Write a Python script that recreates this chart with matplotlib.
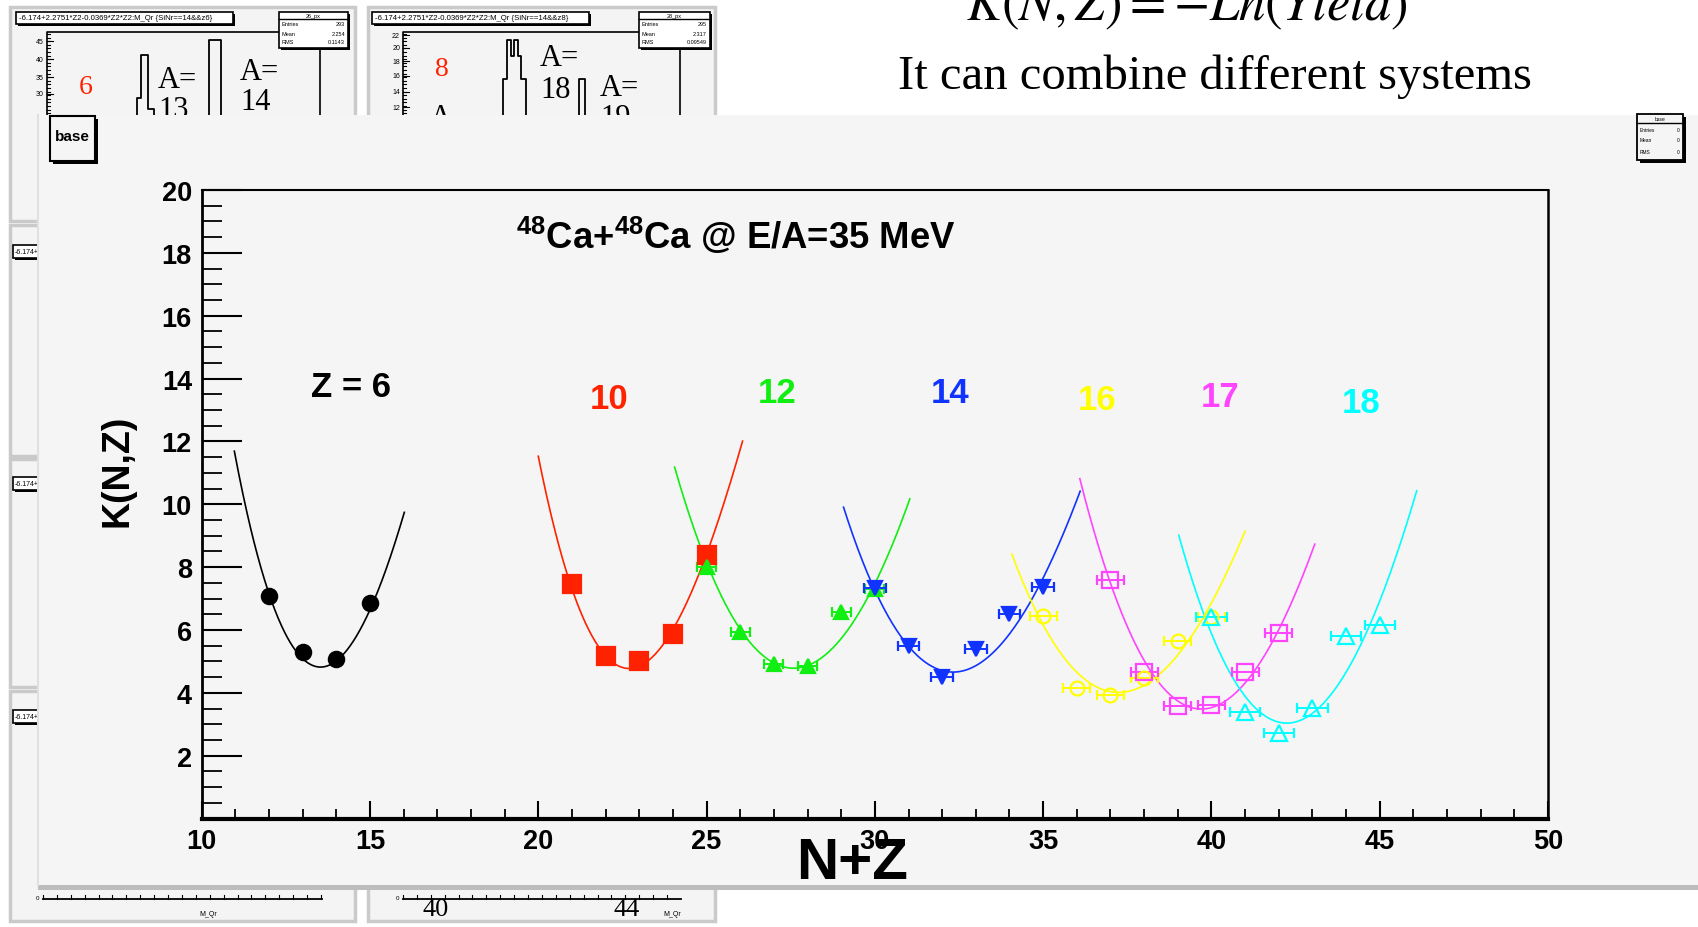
"""
K(N,Z) systematics for 48Ca+48Ca @ E/A=35 MeV, as seen on a slide
with the ROOT canvas pasted over a grid of M_Qr histograms.
"""

import numpy as np
import matplotlib
matplotlib.use("Agg")
import matplotlib.pyplot as plt
from matplotlib.patches import Rectangle

plt.rcParams["font.family"] = ["Liberation Sans", "DejaVu Sans"]
plt.rcParams["mathtext.fontset"] = "stix"

W, H = 1699, 928

# ─────────────────────────────────────────────
# DATA
# ─────────────────────────────────────────────

z_labels = ["Z = 6", "10", "12", "14", "16", "17", "18"]
label_x = [14.43, 22.09, 27.11, 32.24, 36.61, 40.25, 44.46]
label_y = [13.75, 13.36, 13.57, 13.57, 13.34, 13.44, 13.23]

z6_x = [12, 13, 14, 15]
z6_y = [7.09, 5.29, 5.07, 6.87]
z10_x = [21, 22, 23, 24, 25]
z10_y = [7.46, 5.18, 5.02, 5.87, 8.39]
z12_x = [25, 26, 27, 28, 29, 30]
z12_y = [7.99, 5.94, 4.91, 4.84, 6.56, 7.30]
z14_x = [30, 31, 32, 33, 34, 35]
z14_y = [7.35, 5.50, 4.49, 5.39, 6.50, 7.38]
z16_x = [35, 36, 37, 38, 39, 40]
z16_y = [6.45, 4.15, 3.92, 4.47, 5.66, 6.40]
z17_x = [37, 38, 39, 40, 41, 42]
z17_y = [7.58, 4.66, 3.57, 3.63, 4.68, 5.90]
z18_x = [40, 41, 42, 43, 44, 45]
z18_y = [6.40, 3.40, 2.71, 3.52, 5.80, 6.15]

# half widths of the horizontal error bars
xerr = [0, 0, 0.28, 0.32, 0.40, 0.40, 0.45]

# points
z6_cx = [10.97, 11.29, 11.74, 12.44, 13.38, 13.7, 14.43, 15.42, 16.02]
z6_cy = [11.75, 10.05, 7.83, 6.03, 4.94, 4.95, 5.39, 7.72, 9.79]
z10_cx = [20.0, 20.9, 21.79, 22.49, 23.28, 24.28, 25.07, 25.67, 26.07]
z10_cy = [11.48, 7.72, 5.50, 4.80, 4.97, 6.45, 8.78, 10.69, 11.87]
z12_cx = [24.05, 24.87, 25.27, 25.87, 26.47, 27.36, 28.36, 29.25, 29.96, 31.04]
z12_cy = [11.25, 8.36, 7.51, 6.24, 5.39, 4.91, 5.02, 6.13, 7.30, 10.21]
z14_cx = [29.07, 29.85, 30.84, 32.14, 33.28, 34.23, 35.22, 36.10]
z14_cy = [9.86, 7.72, 5.71, 4.54, 5.07, 6.45, 7.93, 10.48]
z16_cx = [34.07, 34.73, 35.22, 36.12, 37.11, 38.0, 38.8, 40.1, 41.0]
z16_cy = [8.34, 6.88, 5.81, 4.33, 3.96, 4.33, 5.18, 6.77, 9.26]
z17_cx = [36.09, 36.72, 37.41, 38.21, 38.9, 39.8, 40.69, 41.49, 42.39, 43.07]
z17_cy = [10.69, 8.57, 6.45, 4.54, 3.70, 3.54, 4.01, 5.07, 6.88, 8.72]
z18_cx = [39.03, 39.7, 40.4, 41.19, 42.14, 43.18, 44.18, 45.17, 46.1]
z18_cy = [8.90, 6.88, 5.07, 3.48, 2.98, 3.48, 5.18, 7.30, 10.44]

x_ticks = [10, 15, 20, 25, 30, 35, 40, 45, 50]
y_ticks = [2, 4, 6, 8, 10, 12, 14, 16, 18, 20]

# background histogram pads
pad1_yticks = ["45", "40", "35", "30"]
pad2_yticks = ["22", "20", "18", "16", "14", "12"]
pad1_stats = ["26_px", "Entries", "293", "Mean", "2.254", "RMS", "0.1143"]
pad2_stats = ["28_px", "Entries", "295", "Mean", "2.317", "RMS", "0.09549"]


# ─────────────────────────────────────────────
# BACKGROUND SLIDE (pixel coordinates)
# ─────────────────────────────────────────────

def draw_box(bg, x0, y0, x1, y1, z, fc="white", shadow=3, lw=1.2):
    if shadow:
        bg.add_patch(Rectangle((x0 + shadow, y0 + shadow), x1 - x0, y1 - y0,
                               fc="black", ec="black", lw=0, zorder=z))
    bg.add_patch(Rectangle((x0, y0), x1 - x0, y1 - y0, fc=fc, ec="black",
                           lw=lw, zorder=z + 0.1))


def draw_pad(bg, x0, y0, x1, y1):
    bg.add_patch(Rectangle((x0, y0), x1 - x0, y1 - y0, fc="#f4f4f4",
                           ec="#cacaca", lw=2.5, zorder=1))


def draw_hist_pad(bg, ax0, ax1, ticks, ypos, title, stats, box):
    # frame of the small histogram
    bg.plot([ax0, ax0, ax1, ax1], [140, 33, 33, 140], color="black", lw=1.2, zorder=2)
    for t, yy in zip(ticks, ypos):
        bg.text(ax0 - 3, yy, t, fontsize=5, ha="right", va="center", zorder=2)
    for yy in np.arange(35, 140, 3.6):
        bg.plot([ax0, ax0 + 3], [yy, yy], color="black", lw=0.8, zorder=2)
    for yy in ypos:
        bg.plot([ax0, ax0 + 6], [yy, yy], color="black", lw=0.8, zorder=2)
    tx0 = ax0 - 31
    draw_box(bg, tx0, 13, tx0 + 217, 25, 3, shadow=2)
    bg.text(tx0 + 3, 19, title, fontsize=5.6, va="center", zorder=4)
    sx0, sx1 = box
    draw_box(bg, sx0, 13, sx1, 49, 3, shadow=2)
    bg.plot([sx0, sx1], [20, 20], color="black", lw=1, zorder=4)
    bg.text((sx0 + sx1) / 2, 16.5, stats[0], fontsize=4, ha="center", va="center", zorder=4)
    for k, yy in enumerate([25, 34, 42]):
        bg.text(sx0 + 3, yy, stats[1 + 2 * k], fontsize=4, va="center", zorder=4)
        bg.text(sx1 - 3, yy, stats[2 + 2 * k], fontsize=4, ha="right", va="center", zorder=4)


def draw_background(fig):
    bg = fig.add_axes([0, 0, 1, 1])
    bg.set_xlim(0, W)
    bg.set_ylim(H, 0)
    bg.axis("off")

    # grid of pads from the histogram canvas
    for (x0, x1) in [(10, 355), (368, 715)]:
        for (y0, y1) in [(8, 222), (226, 457), (460, 688), (692, 922)]:
            draw_pad(bg, x0, y0, x1, y1)

    draw_hist_pad(bg, 47, 320, pad1_yticks, [42, 60, 78, 95],
                  "-6.174+2.2751*Z2-0.0369*Z2*Z2:M_Qr {SiNr==14&&z6}", pad1_stats, (279, 348))
    draw_hist_pad(bg, 403, 680, pad2_yticks, [36, 49, 62, 77, 93, 108],
                  "-6.174+2.2751*Z2-0.0369*Z2*Z2:M_Qr {SiNr==14&&z8}", pad2_stats, (639, 710))

    # histogram outlines peeking above the canvas
    bg.plot([137, 137, 141, 141, 148, 148, 154, 154], [140, 99, 99, 56, 56, 110, 110, 140],
            color="black", lw=1.3, zorder=2)
    bg.plot([209, 209, 221, 221], [140, 41, 41, 140], color="black", lw=1.3, zorder=2)
    bg.plot([503, 503, 507, 507, 511, 511, 514, 514, 518, 518, 521, 521, 526, 526],
            [140, 80, 80, 41, 41, 57, 57, 41, 41, 57, 57, 80, 80, 140],
            color="black", lw=1.3, zorder=2)
    bg.plot([579, 579, 585, 585], [140, 80, 80, 140], color="black", lw=1.3, zorder=2)

    serif = "Liberation Serif"
    bg.text(86, 88, "6", color="#ff2200", family=serif, fontsize=20, ha="center", va="center", zorder=2)
    bg.text(442, 70, "8", color="#ff2200", family=serif, fontsize=20, ha="center", va="center", zorder=2)
    for (tx, ty, s) in [(158, 80, "A="), (158, 111, "13"), (240, 72, "A="), (240, 103, "14"),
                        (540, 58, "A="), (540, 90, "18"), (600, 88, "A="), (600, 119, "19"),
                        (430, 118, "A")]:
        bg.text(tx, ty, s, family=serif, fontsize=22, va="center", zorder=2)

    # little boxes of the pads on the left column
    for yy in [246, 478, 711]:
        draw_box(bg, 13, yy, 120, yy + 13, 3, shadow=2)
        bg.text(15, yy + 6.5, "-6.174+2.2751*Z2", fontsize=5, va="center", zorder=4)

    # bottom axes of the last row of pads
    for (a0, a1, lab) in [(43, 322, 208), (403, 681, 672)]:
        bg.plot([a0, a1], [900, 900], color="black", lw=1.3, zorder=2)
        for xx in np.arange(a0, a1, 13.9):
            bg.plot([xx, xx], [900, 896], color="black", lw=0.8, zorder=2)
        bg.text(a0 - 4, 899, "0", fontsize=4.5, ha="right", va="center", zorder=2)
        bg.text(lab, 915, "M_Qr", fontsize=5, ha="center", va="center", zorder=2)
    bg.text(436, 910, "40", family=serif, fontsize=19, ha="center", va="center", zorder=2)
    bg.text(627, 910, "44", family=serif, fontsize=19, ha="center", va="center", zorder=2)

    # slide text
    bg.text(1187, 20, r"$K(N,Z) = -Ln(Yield)$", fontsize=38, ha="center", va="baseline", zorder=2)
    bg.text(1215, 89, "It can combine different systems", family=serif, fontsize=35,
            ha="center", va="baseline", zorder=2)

    # the ROOT canvas on top
    bg.add_patch(Rectangle((38, 116), W, 774, fc="#f5f5f5", ec="none", zorder=10))
    bg.add_patch(Rectangle((38, 886), W, 5, fc="#bdbdbd", ec="none", zorder=10))
    bg.plot([38, 38], [116, 886], color="#e0e0e0", lw=1.5, zorder=10)

    draw_box(bg, 50, 117, 95, 162, 11, fc="#f5f5f5", shadow=3, lw=1.5)
    bg.text(72, 137, "base", fontsize=11, fontweight="bold", ha="center", va="center", zorder=12)

    draw_box(bg, 1637, 115, 1683, 161, 11, fc="#f5f5f5", shadow=3, lw=1.3)
    bg.plot([1637, 1683], [124, 124], color="black", lw=1, zorder=12)
    bg.text(1660, 119.5, "base", fontsize=3.5, ha="center", va="center", zorder=12)
    for yy, (a, b) in zip([130, 141, 152], [("Entries", "0"), ("Mean", "0"), ("RMS", "0")]):
        bg.text(1640, yy, a, fontsize=3.5, va="center", zorder=12)
        bg.text(1680, yy, b, fontsize=3.5, ha="right", va="center", zorder=12)
    return bg


# ─────────────────────────────────────────────
# MAIN PLOT
# ─────────────────────────────────────────────

def draw_series(ax, px, py, cx, cy, color, marker, ms, filled, err):
    coef = np.polyfit(cx, cy, 3)
    xs = np.linspace(cx[0], cx[-1], 200)
    ax.plot(xs, np.polyval(coef, xs), color=color, lw=1.2, zorder=3)
    mfc = color if filled else "none"
    ax.errorbar(px, py, xerr=err if err else None, fmt=marker, color=color, mfc=mfc,
                mec=color, ms=ms, mew=1.6, capsize=3.5, elinewidth=1.4, ls="none", zorder=4)


def main():
    fig = plt.figure(figsize=(W / 100, H / 100), dpi=100)
    fig.patch.set_facecolor("white")
    draw_background(fig)

    ax = fig.add_axes([201.7 / W, 1 - 819.6 / H, (1548 - 201.7) / W, (819.6 - 191) / H])
    ax.set_facecolor("none")
    ax.set_xlim(10, 50)
    ax.set_ylim(0, 20)

    series = [
        (z6_x, z6_y, z6_cx, z6_cy, "black", "o", 11, True),
        (z10_x, z10_y, z10_cx, z10_cy, "#ff2200", "s", 12.5, True),
        (z12_x, z12_y, z12_cx, z12_cy, "#11ee11", "^", 10, True),
        (z14_x, z14_y, z14_cx, z14_cy, "#1133ff", "v", 10.5, True),
        (z16_x, z16_y, z16_cx, z16_cy, "#ffff00", "o", 10, False),
        (z17_x, z17_y, z17_cx, z17_cy, "#ff44ff", "s", 12, False),
        (z18_x, z18_y, z18_cx, z18_cy, "#00ffff", "^", 11.5, False),
    ]
    for (px, py, cx, cy, col, mk, ms, filled), err in zip(series, xerr):
        draw_series(ax, px, py, cx, cy, col, mk, ms, filled, err)

    colors = [s[4] for s in series]
    for lab, lx, ly, col in zip(z_labels, label_x, label_y, colors):
        ax.text(lx, ly, lab, color=col, fontsize=25, fontweight="bold", ha="center", va="center")

    ax.text(19.35, 18.55, r"$\mathregular{^{48}}$Ca+$\mathregular{^{48}}$Ca @ E/A=35 MeV",
            fontsize=26.3, fontweight="bold", ha="left", va="center")

    # ROOT-like axes
    ax.set_xticks(x_ticks)
    ax.set_xticks(np.arange(10, 51, 1), minor=True)
    ax.set_yticks(y_ticks)
    ax.set_yticks(np.arange(0, 20.01, 0.5), minor=True)
    ax.tick_params(axis="x", which="major", direction="in", length=13, width=1.5, pad=7,
                   labelsize=19.5, top=False)
    ax.tick_params(axis="x", which="minor", direction="in", length=7, width=1.3, top=False)
    ax.tick_params(axis="y", which="major", direction="in", length=29, width=1.5, pad=7,
                   labelsize=19.5, right=False)
    ax.tick_params(axis="y", which="minor", direction="in", length=14.5, width=1.3, right=False)
    for lbl in ax.get_xticklabels() + ax.get_yticklabels():
        lbl.set_fontweight("bold")
    ax.spines["bottom"].set_linewidth(3)
    ax.spines["left"].set_linewidth(2)
    ax.spines["top"].set_linewidth(1.5)
    ax.spines["right"].set_linewidth(1.8)

    fig.text(852 / W, 1 - 864 / H, "N+Z", fontsize=42, fontweight="bold", ha="center", va="center")
    fig.text(117 / W, 1 - 471 / H, "K(N,Z)", fontsize=27, fontweight="bold", rotation=90,
             ha="center", va="center")

    fig.savefig("out.png", dpi=100)


if __name__ == "__main__":
    main()
